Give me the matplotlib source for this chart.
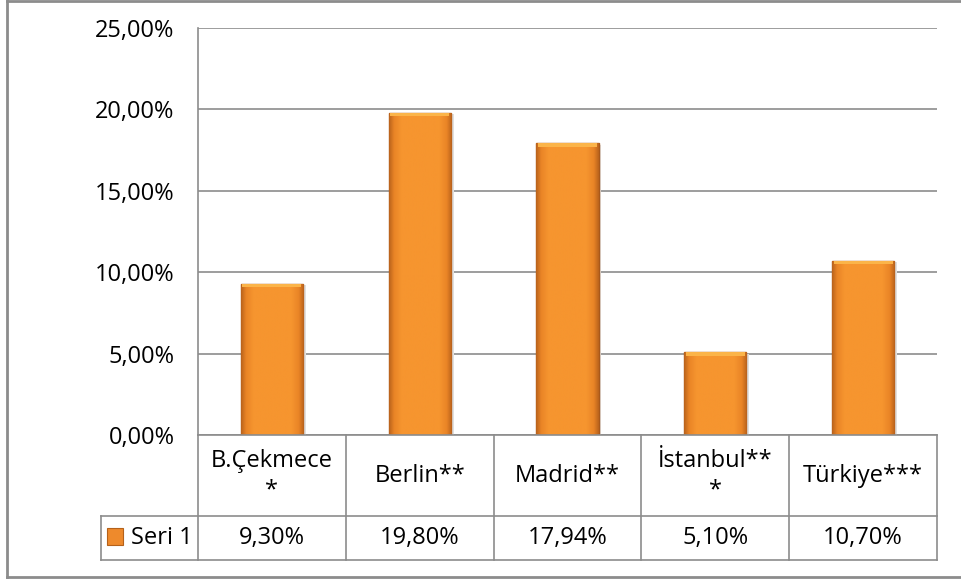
import numpy as np
import matplotlib
matplotlib.use('Agg')
import matplotlib.pyplot as plt
from matplotlib.lines import Line2D
from matplotlib.patches import Rectangle
from matplotlib.colors import LinearSegmentedColormap
import matplotlib.transforms as mtransforms

plt.rcParams['font.family'] = ['Open Sans', 'DejaVu Sans']

# data
categories = ['B.Çekmece\n*', 'Berlin**', 'Madrid**', 'İstanbul**\n*', 'Türkiye***']
values = [9.30, 19.80, 17.94, 5.10, 10.70]
series_name = 'Seri 1'
yticks = [0, 5, 10, 15, 20, 25]

grey = '#8C8C8C'
fsize = 17

fig = plt.figure(figsize=(9.62, 5.79), dpi=100)
ax = fig.add_axes([198 / 962, 1 - 435 / 579, 739 / 962, 407 / 579])

x = np.arange(len(values))
bars = ax.bar(x, values, width=0.42, color='#F39231', edgecolor='#A9581A',
              linewidth=1.0, zorder=3)

# orange fill with darker bevelled edges
cmap = LinearSegmentedColormap.from_list(
    'bar', [(0, '#B9621C'), (0.08, '#E98426'), (0.2, '#F6952F'),
            (0.8, '#F6952F'), (0.92, '#E98426'), (1, '#B9621C')])
grad = np.linspace(0, 1, 256).reshape(1, -1)
for b in bars:
    x0, w, h = b.get_x(), b.get_width(), b.get_height()
    im = ax.imshow(grad, cmap=cmap, aspect='auto', extent=(x0, x0 + w, 0, h),
                   zorder=3.5)
    im.set_clip_path(b)
    # light bevel on top
    ax.add_patch(Rectangle((x0 + 0.01, h - 0.22), w - 0.02, 0.2, color='#FBB449',
                           zorder=4, linewidth=0))
    # soft shadow on the right
    ax.add_patch(Rectangle((x0 + w, 0), 0.02, h - 0.1, color='#E0E0E0',
                           zorder=2, linewidth=0))

ax.set_xlim(-0.5, len(values) - 0.5)
ax.set_ylim(0, 25)
ax.set_yticks(yticks)
ax.set_yticklabels([f'{t:.2f}%'.replace('.', ',') for t in yticks], fontsize=fsize)
ax.set_xticks([])
ax.tick_params(axis='y', length=0, pad=17)
ax.yaxis.grid(True, color=grey, linewidth=1.2, zorder=0)
for s in ['top', 'right', 'bottom']:
    ax.spines[s].set_visible(False)
ax.spines['left'].set_color(grey)
ax.spines['left'].set_linewidth(1.2)

# data table under the plot
trans = mtransforms.blended_transform_factory(ax.transData, ax.transAxes)
r1 = -81 / 407
r2 = -125 / 407
lx = (101 - 198) / 739
lw = 1.2
ax.plot([-0.5, 4.5], [0, 0], transform=trans, color=grey, lw=lw, clip_on=False, zorder=5)
ax.plot([lx, 1], [r1, r1], transform=ax.transAxes, color=grey, lw=lw, clip_on=False)
ax.plot([lx, 1], [r2, r2], transform=ax.transAxes, color=grey, lw=lw, clip_on=False)
ax.plot([lx, lx], [r1, r2], transform=ax.transAxes, color=grey, lw=lw, clip_on=False)
for i in range(len(values) + 1):
    ax.plot([i - 0.5, i - 0.5], [0, r2], transform=trans, color=grey, lw=lw,
            clip_on=False)

for i, (c, v) in enumerate(zip(categories, values)):
    ax.text(i, r1 / 2, c, transform=trans, ha='center', va='center',
            fontsize=fsize, linespacing=1.3)
    ax.text(i, (r1 + r2) / 2, f'{v:.2f}%'.replace('.', ','), transform=trans,
            ha='center', va='center', fontsize=fsize)

# legend key in table
fig.add_artist(Rectangle((107 / 962, 1 - 545 / 579), 16 / 962, 17 / 579,
                         facecolor='#EE8A2C', edgecolor='#B5611A', lw=0.8))
fig.text(131 / 962, 1 - 538 / 579, series_name, ha='left', va='center',
         fontsize=fsize)

# outer chart border (left, top, bottom)
bc = '#8C8C8C'
fig.add_artist(Line2D([7 / 962, 7 / 962], [1 - 1 / 579, 1 - 577 / 579], color=bc, lw=2))
fig.add_artist(Line2D([7 / 962, 1], [1 - 1 / 579, 1 - 1 / 579], color=bc, lw=2))
fig.add_artist(Line2D([7 / 962, 1], [1 - 577 / 579, 1 - 577 / 579], color=bc, lw=2))

fig.savefig('out.png', dpi=100)
